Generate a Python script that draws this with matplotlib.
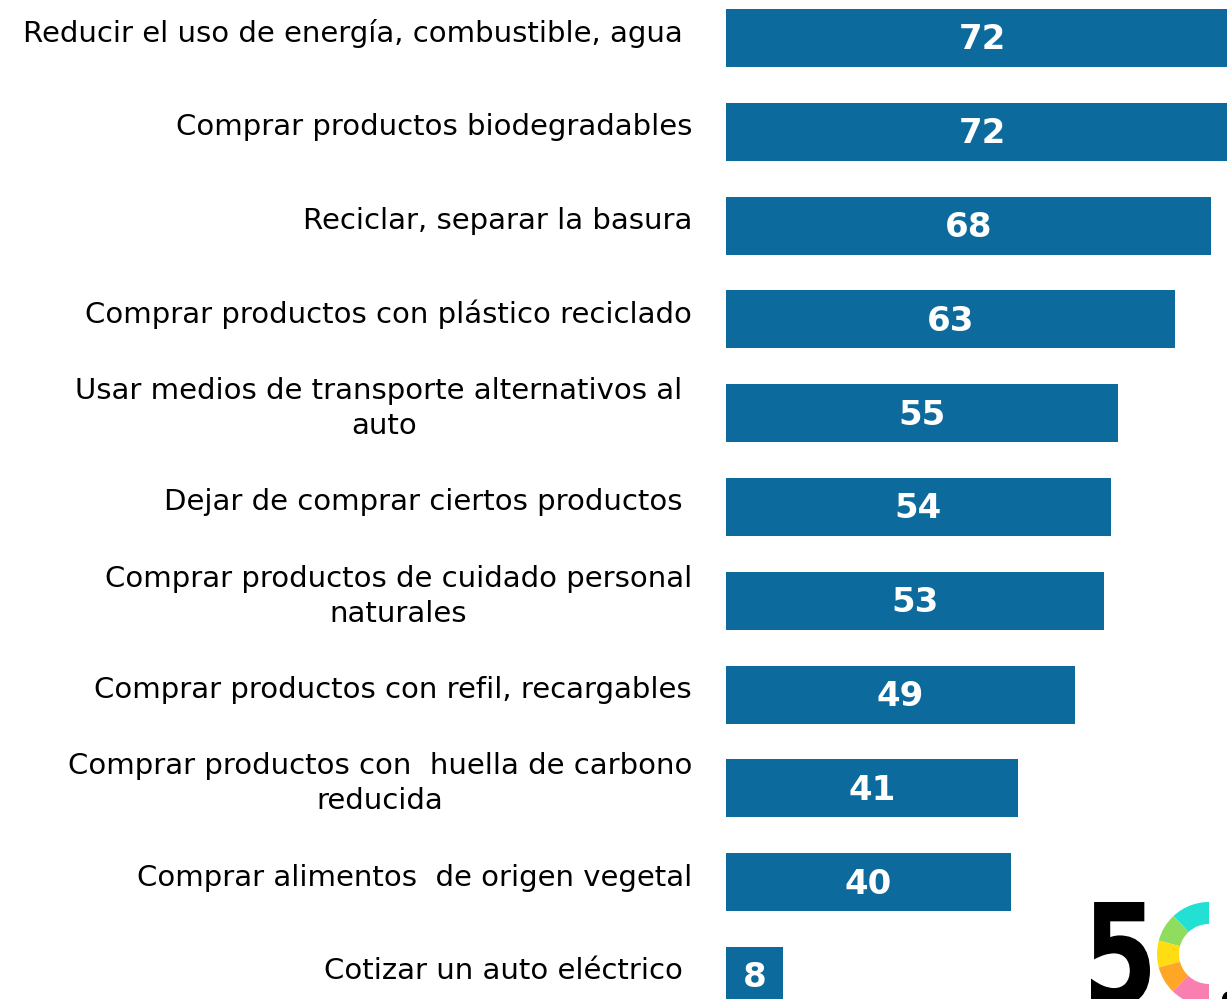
import matplotlib.pyplot as plt
from matplotlib.patches import Wedge, Circle, PathPatch
from matplotlib.textpath import TextPath
from matplotlib.font_manager import FontProperties
from matplotlib.transforms import Affine2D

# Acciones sustentables y % que las realiza
acciones = [
    "Reducir el uso de energía, combustible, agua ",
    "Comprar productos biodegradables",
    "Reciclar, separar la basura",
    "Comprar productos con plástico reciclado",
    "Usar medios de transporte alternativos al \nauto",
    "Dejar de comprar ciertos productos ",
    "Comprar productos de cuidado personal\nnaturales",
    "Comprar productos con refil, recargables",
    "Comprar productos con  huella de carbono\nreducida",
    "Comprar alimentos  de origen vegetal",
    "Cotizar un auto eléctrico ",
]
porcentajes = [72, 72, 68, 63, 55, 54, 53, 49, 41, 40, 8]

BAR_COLOR = "#0c6a9c"
LOGO_COLORS = ["#22e0d3", "#8fdc5f", "#ffdd12", "#ffa626", "#f97fb1"]
LOGO_ANGLES = [90, 133, 165, 195, 226, 270]

W, H = 1227, 999
fig = plt.figure(figsize=(W / 100, H / 100), dpi=100)

ax = fig.add_axes([726 / W, 0, 501 / W, 1])
y = list(range(len(acciones)))
ax.barh(y, porcentajes, height=0.62, color=BAR_COLOR)
ax.set_xlim(0, 70.3)
ax.set_ylim(10.245, -0.405)
ax.axis("off")

for i, (lab, val) in enumerate(zip(acciones, porcentajes)):
    ax.text(val / 2, i + 0.02, str(val), ha="center", va="center",
            color="white", fontsize=24.5, fontweight="bold")
    ax.text(-0.068, i - 0.05, lab, transform=ax.get_yaxis_transform(),
            ha="right", va="center", multialignment="center",
            fontsize=21, color="black", linespacing=1.32, clip_on=False)

# logo "5C." abajo a la derecha (coordenadas en pixeles, y hacia arriba)
logo = fig.add_axes([0, 0, 1, 1], zorder=5)
logo.set_xlim(0, W)
logo.set_ylim(0, H)
logo.axis("off")

cx, cy, r_out, ancho = 1209, H - 954, 52, 22
for c, a1, a2 in zip(LOGO_COLORS, LOGO_ANGLES[:-1], LOGO_ANGLES[1:]):
    logo.add_patch(Wedge((cx, cy), r_out, a1, a2, width=ancho, color=c, lw=0))
logo.add_patch(Circle((1230, 0), 8, color="black", lw=0))

cinco = TextPath((0, 0), "5", size=100,
                 prop=FontProperties(family="DejaVu Sans", weight="bold"))
bb = cinco.get_extents()
tr = (Affine2D().translate(-bb.x0, -bb.y0)
      .scale(59 / bb.width, 104 / bb.height)
      .translate(1091, H - 1006))
logo.add_patch(PathPatch(tr.transform_path(cinco), color="black", lw=0))

fig.savefig("out.png", dpi=100)
